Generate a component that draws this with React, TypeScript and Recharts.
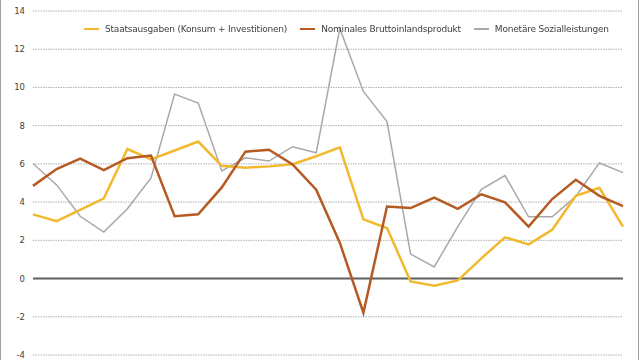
import React from 'react';
import { LineChart, Line, XAxis, YAxis, CartesianGrid, ReferenceLine, Legend } from 'recharts';

const periods = ['1','2','3','4','5','6','7','8','9','10','11','12','13','14','15','16','17','18','19','20','21','22','23','24','25','26'];
const staatsausgaben = [3.36, 3.0, 3.6, 4.2, 6.78, 6.24, 6.7, 7.17, 5.9, 5.8, 5.87, 5.98, 6.4, 6.86, 3.1, 2.64, -0.15, -0.37, -0.1, 1.06, 2.16, 1.79, 2.55, 4.33, 4.75, 2.72];
const bip = [4.85, 5.73, 6.27, 5.68, 6.3, 6.44, 3.26, 3.36, 4.77, 6.64, 6.74, 5.97, 4.65, 1.88, -1.79, 3.77, 3.69, 4.24, 3.65, 4.41, 3.99, 2.72, 4.16, 5.17, 4.33, 3.79];
const sozial = [6.02, 4.9, 3.26, 2.43, 3.65, 5.26, 9.65, 9.18, 5.63, 6.32, 6.15, 6.9, 6.58, 13.08, 9.79, 8.21, 1.28, 0.61, 2.72, 4.67, 5.39, 3.23, 3.23, 4.3, 6.05, 5.54];
const yTicks = [-4, -2, 0, 2, 4, 6, 8, 10, 12, 14];

const seriesNames = {
  s: 'Staatsausgaben (Konsum + Investitionen)',
  b: 'Nominales Bruttoinlandsprodukt',
  m: 'Monetäre Sozialleistungen',
};

const data = periods.map((p, i) => ({ p, s: staatsausgaben[i], b: bip[i], m: sozial[i] }));

const FONT = '"DejaVu Sans", Verdana, sans-serif';

const legendItems = [
  { key: 's', color: '#F2B92E', w: 2.5 },
  { key: 'b', color: '#B55A22', w: 2.5 },
  { key: 'm', color: '#A8A8A8', w: 1.5 },
];

const LegendContent = () => (
  <div style={{ display: 'flex', alignItems: 'center', fontFamily: FONT, fontSize: 9, letterSpacing: -0.2, color: '#404040', whiteSpace: 'nowrap' }}>
    {legendItems.map((it) => (
      <div key={it.key} style={{ display: 'flex', alignItems: 'center', marginRight: 13 }}>
        <div style={{ width: 15, height: it.w, background: it.color, marginRight: 6 }} />
        <span>{(seriesNames as any)[it.key]}</span>
      </div>
    ))}
  </div>
);

export default function App() {
  return (
    <div style={{ position: 'fixed', left: 0, top: 0, width: 640, height: 360, background: '#fff' }}>
      <LineChart width={640} height={360} data={data} margin={{ top: 1, right: 17, bottom: 5, left: 0 }}>
        <CartesianGrid vertical={false} stroke="#b0b0b0" strokeDasharray="1.5 1" />
        <XAxis dataKey="p" hide scale="point" padding={{ left: 0, right: 0 }} />
        <YAxis
          domain={[-4, 14]}
          ticks={yTicks}
          width={33}
          axisLine={false}
          tickLine={false}
          interval={0}
          tick={{ fontFamily: FONT, fontSize: 8.5, fill: '#404040' }}
        />
        <ReferenceLine y={0} stroke="#5f5f5f" strokeWidth={2} />
        <Legend verticalAlign="top" align="left" wrapperStyle={{ top: 24, left: 84, width: 560 }} content={<LegendContent />} />
        <Line type="linear" dataKey="m" name={seriesNames.m} stroke="#A8A8A8" strokeWidth={1.5} dot={false} isAnimationActive={false} />
        <Line type="linear" dataKey="s" name={seriesNames.s} stroke="#F2B92E" strokeWidth={2.5} dot={false} isAnimationActive={false} />
        <Line type="linear" dataKey="b" name={seriesNames.b} stroke="#B55A22" strokeWidth={2.5} dot={false} isAnimationActive={false} />
      </LineChart>
      <div style={{ position: 'absolute', left: 0, top: 0, width: 1, height: 360, background: '#a0a0a0' }} />
      <div style={{ position: 'absolute', left: 638, top: 0, width: 1, height: 360, background: '#a0a0a0' }} />
    </div>
  );
}
